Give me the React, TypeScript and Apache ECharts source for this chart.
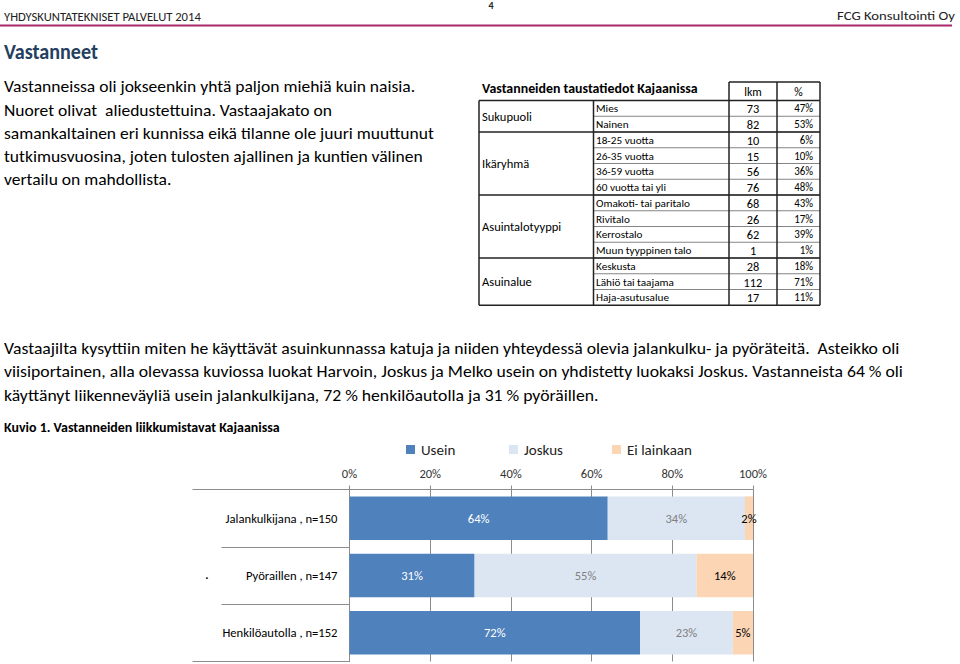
import React, { useEffect, useRef } from "react";
import * as echarts from "echarts";

// ---- chart data ----
const categories = ["Jalankulkijana , n=150", "Pyöraillen , n=147", "Henkilöautolla , n=152"];
const seriesNames = ["Usein", "Joskus", "Ei lainkaan"];
const useinValues = [64, 31, 72];
const joskusValues = [34, 55, 23];
const eiLainkaanValues = [2, 14, 5];

// ---- table data ----
const tableTitle = "Vastanneiden taustatiedot Kajaanissa";
const tableHeaders = ["lkm", "%"];
const tableGroups = ["Sukupuoli", "Ikäryhmä", "Asuintalotyyppi", "Asuinalue"];
const tableGroupSizes = [2, 4, 4, 3];
const tableRowLabels = [
  "Mies", "Nainen", "18-25 vuotta", "26-35 vuotta", "36-59 vuotta", "60 vuotta tai yli",
  "Omakoti- tai paritalo", "Rivitalo", "Kerrostalo", "Muun tyyppinen talo",
  "Keskusta", "Lähiö tai taajama", "Haja-asutusalue",
];
const tableCounts = [73, 82, 10, 15, 56, 76, 68, 26, 62, 1, 28, 112, 17];
const tablePercents = [47, 53, 6, 10, 36, 48, 43, 17, 39, 1, 18, 71, 11];

// ---- page texts ----
const headerLeft = "YHDYSKUNTATEKNISET PALVELUT 2014";
const headerRight = "FCG Konsultointi Oy";
const pageNumber = "4";
const heading = "Vastanneet";
const introLines = [
  "Vastanneissa oli jokseenkin yhtä paljon miehiä kuin naisia.",
  "Nuoret olivat  aliedustettuina. Vastaajakato on",
  "samankaltainen eri kunnissa eikä tilanne ole juuri muuttunut",
  "tutkimusvuosina, joten tulosten ajallinen ja kuntien välinen",
  "vertailu on mahdollista.",
];
const bodyLines = [
  "Vastaajilta kysyttiin miten he käyttävät asuinkunnassa katuja ja niiden yhteydessä olevia jalankulku- ja pyöräteitä.  Asteikko oli",
  "viisiportainen, alla olevassa kuviossa luokat Harvoin, Joskus ja Melko usein on yhdistetty luokaksi Joskus. Vastanneista 64 % oli",
  "käyttänyt liikenneväyliä usein jalankulkijana, 72 % henkilöautolla ja 31 % pyöräillen.",
];
const figureTitle = "Kuvio 1. Vastanneiden liikkumistavat Kajaanissa";

const FONT = "Carlito, Lato, 'Noto Sans', sans-serif";

export default function App() {
  const ref = useRef<HTMLDivElement>(null);

  useEffect(() => {
    const chart = echarts.init(ref.current!, null, { renderer: "svg" });
    const canvas = document.createElement("canvas");
    const ctx = canvas.getContext("2d")!;
    const measure = (text: string, size: number, weight = "normal") => {
      ctx.font = `${weight} ${size}px ${FONT}`;
      return ctx.measureText(text).width;
    };
    const sizeFor = (text: string, w: number, weight = "normal") => (20 * w) / measure(text, 20, weight);

    const els: any[] = [];
    const txt = (
      text: string, x: number, y: number, size: number,
      o: { weight?: string; color?: string; align?: string; width?: number; scale?: number } = {}
    ) => {
      const weight = o.weight || "normal";
      let scaleX = 1;
      if (o.width) scaleX = o.width / measure(text, size, weight);
      if (o.scale) scaleX = o.scale;
      const align = o.align || "left";
      els.push({
        type: "text", x, y, scaleX, silent: true,
        style: {
          text, fontSize: size, fontFamily: FONT, fontWeight: weight, fill: o.color || "#000",
          align, verticalAlign: "middle", textAlign: align, textVerticalAlign: "middle",
        },
      });
    };
    const line = (x1: number, y1: number, x2: number, y2: number, color: string, w: number) => {
      els.push({ type: "line", silent: true, shape: { x1, y1, x2, y2 }, style: { stroke: color, lineWidth: w } });
    };

    // header
    txt(headerLeft, 4, 16, 13, { width: 197, color: "#222" });
    txt(pageNumber, 491, 5, 10, { weight: "bold", align: "center", color: "#222" });
    txt(headerRight, 955, 16, 13, { width: 118, align: "right", color: "#222" });
    line(0, 25.5, 952, 25.5, "#a9286b", 2);
    txt(heading, 4, 52, 22, { weight: "bold", width: 94, color: "#243f60" });

    // intro paragraph
    const introScale = 430 / measure(introLines[2], 17);
    introLines.forEach((l, i) => txt(l, 4, 87 + 23.25 * i, 17, { scale: introScale }));

    // body paragraph
    const bodyScale = 896 / measure(bodyLines[0], 17);
    bodyLines.forEach((l, i) => txt(l, 4, 348 + 23.5 * i, 17, { scale: bodyScale }));

    txt(figureTitle, 4, 428, 13.5, { weight: "bold", width: 276 });

    // table
    const TX = [479, 593.5, 729, 777, 820];
    const headTop = 82;
    const bodyTop = 100.5;
    const rowH = 15.75;
    const dark = "#222";
    const thin = "#666";
    txt(tableTitle, 482, 89, 13.5, { weight: "bold", width: 216 });
    line(TX[2], headTop, TX[4], headTop, dark, 1.5);
    [2, 3, 4].forEach((c) => line(TX[c], headTop, TX[c], bodyTop, dark, 1.5));
    txt(tableHeaders[0], (TX[2] + TX[3]) / 2, 91.5, 12.5, { align: "center", scale: 0.95 });
    txt(tableHeaders[1], (TX[3] + TX[4]) / 2, 91.5, 12.5, { align: "center", scale: 0.95 });

    const rowLabelScale = 70 / measure("60 vuotta tai yli", 11);
    const groupScale = 50 / measure("Sukupuoli", 12.5);
    const bottom = bodyTop + rowH * tableRowLabels.length;

    // thin row separators
    for (let r = 1; r < tableRowLabels.length; r++) {
      line(TX[1], bodyTop + rowH * r, TX[4], bodyTop + rowH * r, thin, 0.8);
    }
    // group separators & labels
    let start = 0;
    tableGroups.forEach((g, gi) => {
      const y0 = bodyTop + rowH * start;
      const y1 = bodyTop + rowH * (start + tableGroupSizes[gi]);
      line(TX[0], y0, TX[4], y0, dark, 1.5);
      txt(g, 482, (y0 + y1) / 2, 12.5, { scale: groupScale });
      start += tableGroupSizes[gi];
    });
    line(TX[0], bottom, TX[4], bottom, dark, 1.5);
    TX.forEach((x) => line(x, bodyTop, x, bottom, dark, 1.5));

    tableRowLabels.forEach((lab, r) => {
      const cy = bodyTop + rowH * r + rowH / 2;
      txt(lab, 596, cy, 11, { scale: rowLabelScale });
      txt(String(tableCounts[r]), (TX[2] + TX[3]) / 2, cy + 0.5, 13, { align: "center", scale: 0.95 });
      txt(tablePercents[r] + "%", 813, cy, 11.5, { align: "right", scale: 0.95 });
    });

    // stray dot before the second category label
    txt("·", 207, 577, 13, { align: "center" });

    const catSize = sizeFor(categories[0], 112);
    const legendSize = sizeFor("Ei lainkaan", 65);
    const axisSize = sizeFor("100%", 28);
    const barLabelSize = 12.5;
    const gridColor = "#8c8c8c";

    const mkSeries = (name: string, data: number[], color: string, labelColor: string) => ({
      name, type: "bar", stack: "total", yAxisIndex: 0, data, barCategoryGap: "24%",
      itemStyle: { color },
      label: {
        show: true, position: "inside", formatter: "{c}%", color: labelColor,
        fontSize: barLabelSize, fontFamily: FONT,
      },
    });

    const legendLefts = [406, 509, 612];
    const legends = seriesNames.map((n, i) => ({
      data: [n], left: legendLefts[i], top: 442, padding: 0, itemGap: 0,
      itemWidth: 9, itemHeight: 9, icon: "rect", selectedMode: false,
      textStyle: { fontSize: legendSize, color: "#222", fontFamily: FONT, padding: [0, 0, 0, 1] },
    }));

    chart.setOption({
      animation: false,
      backgroundColor: "#fff",
      textStyle: { fontFamily: FONT },
      legend: legends,
      grid: { left: 349.5, top: 489.5, width: 403.5, height: 172 },
      xAxis: {
        type: "value", position: "top", min: 0, max: 100, interval: 20,
        axisLabel: { formatter: "{value}%", fontSize: axisSize, color: "#333", margin: 10, fontFamily: FONT },
        axisLine: { show: true, lineStyle: { color: gridColor } },
        axisTick: { show: true, length: 4, lineStyle: { color: gridColor } },
        splitLine: { show: true, lineStyle: { color: gridColor } },
      },
      yAxis: [
        {
          type: "category", data: categories, inverse: true,
          axisLine: { show: true, lineStyle: { color: gridColor } },
          axisTick: { show: true, length: 128, lineStyle: { color: gridColor } },
          axisLabel: { fontSize: catSize, color: "#000", margin: 12, fontFamily: FONT },
        },
        {
          type: "category", data: [""], position: "left",
          axisLine: { show: false },
          axisTick: { show: true, length: 157, lineStyle: { color: gridColor } },
          axisLabel: { show: false },
          splitLine: { show: false },
        },
      ],
      series: [
        mkSeries(seriesNames[0], useinValues, "#4f81bd", "#ffffff"),
        mkSeries(seriesNames[1], joskusValues, "#dce6f2", "#7f7f7f"),
        mkSeries(seriesNames[2], eiLainkaanValues, "#fcd5b5", "#000000"),
      ],
      graphic: { elements: els },
    });

    return () => chart.dispose();
  }, []);

  return (
    <div
      ref={ref}
      style={{ position: "fixed", left: 0, top: 0, width: 960, height: 664, background: "#fff" }}
    />
  );
}
